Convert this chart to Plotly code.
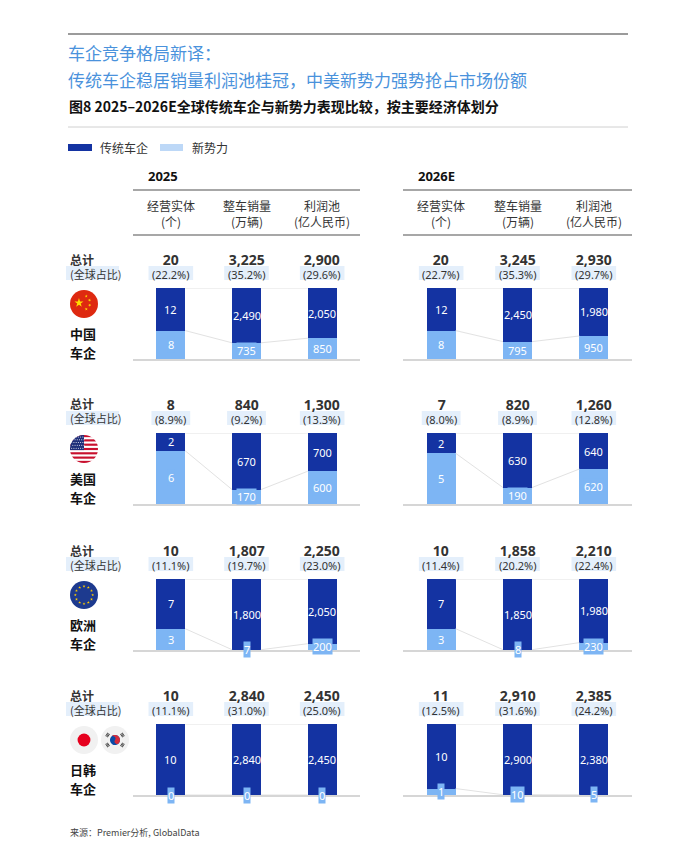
import base64
import math
import plotly.graph_objects as go

# ---------------- data ----------------
years = ["2025", "2026E"]
regions = ["中国", "美国", "欧洲", "日韩"]
region_suffix = "车企"
metric_names = ["经营实体", "整车销量", "利润池"]
metric_units = ["(个)", "(万辆)", "(亿人民币)"]
series_names = ["传统车企", "新势力"]

# rows: 中国, 美国, 欧洲, 日韩 ; columns: 经营实体, 整车销量, 利润池
traditional_2025 = [[12, 2490, 2050], [2, 670, 700], [7, 1800, 2050], [10, 2840, 2450]]
newforce_2025 = [[8, 735, 850], [6, 170, 600], [3, 7, 200], [0, 0, 0]]
total_2025 = [[20, 3225, 2900], [8, 840, 1300], [10, 1807, 2250], [10, 2840, 2450]]
share_2025 = [[22.2, 35.2, 29.6], [8.9, 9.2, 13.3], [11.1, 19.7, 23.0], [11.1, 31.0, 25.0]]

traditional_2026 = [[12, 2450, 1980], [2, 630, 640], [7, 1850, 1980], [10, 2900, 2380]]
newforce_2026 = [[8, 795, 950], [5, 190, 620], [3, 8, 230], [1, 10, 5]]
total_2026 = [[20, 3245, 2930], [7, 820, 1260], [10, 1858, 2210], [11, 2910, 2385]]
share_2026 = [[22.7, 35.3, 29.7], [8.0, 8.9, 12.8], [11.4, 20.2, 22.4], [12.5, 31.6, 24.2]]

title_line1 = "车企竞争格局新译："
title_line2 = "传统车企稳居销量利润池桂冠，中美新势力强势抢占市场份额"
caption = "图8 2025–2026E全球传统车企与新势力表现比较，按主要经济体划分"
source = "来源：Premier分析, GlobalData"
total_label = "总计"
share_label = "(全球占比)"

# ---------------- style ----------------
OFF = 8                      # page body margin
W, H = 675 - 2 * OFF, 855 - 2 * OFF
DARK = "#1433a2"
LIGHT = "#7db5f4"
LEGEND_LIGHT = "#bdd8f7"
PCT_BG = "#e4effb"
CONNECT = "#e2e2e2"
FONT = "Noto Sans CJK SC"
NUMFONT = "Noto Sans"
BAR_W = 0.38

row_tops = [288, 433, 579, 724]
bar_h = 71
col_domains = [(133, 360), (403, 632)]


def px(x):
    return (x - OFF) / W


def py(y):
    return 1 - (y - OFF) / H


def ann(**kw):
    kw.setdefault("showarrow", False)
    kw.setdefault("yanchor", "middle")
    kw.setdefault("xanchor", "center")
    return kw


def bg_rect(x0, x1, y0, y1):
    return dict(type="rect", xref="paper", yref="paper", x0=px(x0), x1=px(x1), y0=py(y1), y1=py(y0),
                fillcolor=PCT_BG, line=dict(width=0), layer="below")


# ---------------- flags (svg) ----------------
def star(cx, cy, R, rot=-90):
    pts = []
    for k in range(10):
        r = R if k % 2 == 0 else R * 0.382
        a = math.radians(rot + k * 36)
        pts.append(f"{cx + r * math.cos(a):.2f},{cy + r * math.sin(a):.2f}")
    return " ".join(pts)


def svg_uri(body):
    svg = ('<svg xmlns="http://www.w3.org/2000/svg" viewBox="0 0 100 100">'
           '<defs><clipPath id="c"><circle cx="50" cy="50" r="50"/></clipPath></defs>'
           f'<g clip-path="url(#c)">{body}</g></svg>')
    return "data:image/svg+xml;base64," + base64.b64encode(svg.encode()).decode()


cn = '<rect width="100" height="100" fill="#de2910"/>'
cn += f'<polygon points="{star(32, 46, 17)}" fill="#ffde00"/>'
for (sx, sy, rr) in [(58, 22, 0), (70, 36, 20), (70, 54, 40), (58, 68, 60)]:
    cn += f'<polygon points="{star(sx, sy, 6, -90 + rr)}" fill="#ffde00"/>'
flag_cn = svg_uri(cn)

us = '<rect width="100" height="100" fill="#ffffff"/>'
sh = 100 / 13
for k in range(0, 13, 2):
    us += f'<rect x="0" y="{k * sh:.2f}" width="100" height="{sh:.2f}" fill="#c8102e"/>'
us += f'<rect x="0" y="0" width="50" height="{7 * sh:.2f}" fill="#1f2f7a"/>'
for r in range(5):
    for c in range(6):
        us += f'<circle cx="{6 + c * 8 + (4 if r % 2 else 0):.1f}" cy="{7 + r * 10:.1f}" r="1.8" fill="#ffffff"/>'
flag_us = svg_uri(us)

eu = '<rect width="100" height="100" fill="#1d3a8f"/>'
for k in range(12):
    a = math.radians(k * 30)
    eu += f'<polygon points="{star(50 + 31 * math.cos(a), 50 + 31 * math.sin(a), 5.5)}" fill="#ffcc00"/>'
flag_eu = svg_uri(eu)

jp = '<rect width="100" height="100" fill="#f1f1f1"/><circle cx="50" cy="50" r="23" fill="#e6001e"/>'
flag_jp = svg_uri(jp)

kr = '<rect width="100" height="100" fill="#f1f1f1"/>'
kr += '<g transform="rotate(33.7 50 50)">'
kr += '<circle cx="50" cy="50" r="18" fill="#0a4aa6"/>'
kr += '<path d="M32,50 A18,18 0 0 1 68,50 A9,9 0 0 1 50,50 A9,9 0 0 0 32,50 Z" fill="#d52b3a"/>'
kr += '</g>'
for ang in [-146.3, -33.7, 33.7, 146.3]:
    a = math.radians(ang)
    cx, cy = 50 + 32 * math.cos(a), 50 + 32 * math.sin(a)
    g = f'<g transform="translate({cx:.2f},{cy:.2f}) rotate({ang + 90:.2f})">'
    for j in range(3):
        g += f'<rect x="-7" y="{-5 + j * 3.8:.1f}" width="14" height="2.4" fill="#222"/>'
    g += '</g>'
    kr += g
flag_kr = svg_uri(kr)

flags = [[flag_cn], [flag_us], [flag_eu], [flag_jp, flag_kr]]

# ---------------- figure ----------------
fig = go.Figure()
layout = dict(
    width=W, height=H, margin=dict(l=0, r=0, t=0, b=0),
    paper_bgcolor="white", plot_bgcolor="rgba(0,0,0,0)",
    barmode="stack", barnorm="fraction", showlegend=False,
    font=dict(family=FONT, color="#222"),
)
annotations = []
shapes = []
images = []

year_data = [
    (traditional_2025, newforce_2025, total_2025, share_2025),
    (traditional_2026, newforce_2026, total_2026, share_2026),
]

k = 0
for r in range(4):
    top = row_tops[r]
    for c in range(2):
        k += 1
        xa, ya = f"x{k}", f"y{k}"
        xl, yl = ("xaxis" if k == 1 else f"xaxis{k}"), ("yaxis" if k == 1 else f"yaxis{k}")
        d0, d1 = col_domains[c]
        layout[xl] = dict(domain=[px(d0), px(d1)], range=[-0.5, 2.5], anchor=ya,
                          showticklabels=False, showgrid=False, zeroline=False, ticks="",
                          showline=True, linecolor="#d6d6d6", linewidth=1.5, fixedrange=True)
        layout[yl] = dict(domain=[py(top + bar_h), py(top)], range=[0, 1], anchor=xa,
                          visible=False, fixedrange=True)
        trad, new, tot, shr = [a[r] for a in year_data[c]]
        xs = [0, 1, 2]
        fig.add_trace(go.Bar(x=xs, y=new, width=BAR_W, marker=dict(color=LIGHT, line=dict(width=0)),
                             xaxis=xa, yaxis=ya, name=series_names[1], hoverinfo="skip"))
        fig.add_trace(go.Bar(x=xs, y=trad, width=BAR_W, marker=dict(color=DARK, line=dict(width=0)),
                             xaxis=xa, yaxis=ya, name=series_names[0], hoverinfo="skip"))
        frac = [n / (n + t) for n, t in zip(new, trad)]
        cx, cy = [], []
        for i in range(2):
            cx += [i + BAR_W / 2, i + 1 - BAR_W / 2, None, i + BAR_W / 2, i + 1 - BAR_W / 2, None]
            cy += [frac[i], frac[i + 1], None, 1, 1, None]
        fig.add_trace(go.Scatter(x=cx, y=cy, mode="lines", line=dict(color=CONNECT, width=1),
                                 xaxis=xa, yaxis=ya, hoverinfo="skip", showlegend=False))
        step = (d1 - d0) / 3
        for i in range(3):
            # segment labels
            annotations.append(ann(x=i, y=frac[i] + (1 - frac[i]) / 2, xref=xa, yref=ya,
                                   text=f"{trad[i]:,}",
                                   font=dict(size=11, color="white", family=NUMFONT)))
            annotations.append(ann(x=i, y=frac[i] / 2, xref=xa, yref=ya,
                                   text=f"{new[i]:,}", bgcolor=LIGHT, borderpad=0,
                                   font=dict(size=11, color="white", family=NUMFONT)))
            # totals + share (one two-line text, light box behind the share line)
            pct_txt = f"({shr[i]:.1f}%)"
            ccx = d0 + (i + 0.5) * step
            hw = len(pct_txt) * 2.9 + 2
            shapes.append(bg_rect(ccx - hw, ccx + hw, top - 22, top - 8))
            annotations.append(ann(x=i, y=1, xref=xa, yref=ya, yshift=22,
                                   text=f"<span style='font-size:14px'><b>{tot[i]:,}</b></span><br>{pct_txt}",
                                   font=dict(size=11, color="#333", family=NUMFONT)))
            if r == 0:
                annotations.append(ann(x=i, y=py(213.5), xref=xa, yref="paper",
                                       text=f"{metric_names[i]}<br>{metric_units[i]}",
                                       font=dict(size=12, color="#333")))
    # row labels
    shapes.append(bg_rect(66, 119, top - 22, top - 8))
    annotations.append(ann(x=px(68), y=py(top - 22), xref="paper", yref="paper", xanchor="left",
                           align="left",
                           text=f"<span style='font-size:12px'><b>{total_label}</b></span><br>{share_label}",
                           font=dict(size=11, color="#333")))
    annotations.append(ann(x=px(68), y=py(top + 45), xref="paper", yref="paper", xanchor="left",
                           text=f"<b>{regions[r]}</b>", font=dict(size=13, color="#111")))
    annotations.append(ann(x=px(68), y=py(top + 64), xref="paper", yref="paper", xanchor="left",
                           text=f"<b>{region_suffix}</b>", font=dict(size=13, color="#111")))
    for j, src in enumerate(flags[r]):
        fx = 84 + 31 * j
        images.append(dict(source=src, xref="paper", yref="paper", x=px(fx - 14), y=py(top + 2),
                           sizex=28 / W, sizey=28 / H, xanchor="left", yanchor="top",
                           sizing="contain", layer="above"))

# header block
shapes.append(dict(type="line", xref="paper", yref="paper", x0=px(68), x1=px(628), y0=py(34), y1=py(34),
                   line=dict(color="#7a7a7a", width=1.5)))
shapes.append(dict(type="line", xref="paper", yref="paper", x0=px(68), x1=px(628), y0=py(127), y1=py(127),
                   line=dict(color="#d0d0d0", width=1)))
for (d0, d1) in col_domains:
    for yy in (190, 235):
        shapes.append(dict(type="line", xref="paper", yref="paper", x0=px(d0), x1=px(d1), y0=py(yy), y1=py(yy),
                           line=dict(color="#8a8a8a", width=1.5)))

annotations.append(ann(x=px(66), y=py(53), xref="paper", yref="paper", xanchor="left", text=title_line1,
                       font=dict(size=17, color="#4a92dc", family=FONT)))
annotations.append(ann(x=px(66), y=py(79), xref="paper", yref="paper", xanchor="left", text=title_line2,
                       font=dict(size=17, color="#4a92dc", family=FONT)))
annotations.append(ann(x=px(67), y=py(106), xref="paper", yref="paper", xanchor="left",
                       text=f"<b>{caption}</b>", font=dict(size=14, color="#111")))

# legend
shapes.append(dict(type="rect", xref="paper", yref="paper", x0=px(68), x1=px(92), y0=py(151), y1=py(144),
                   fillcolor=DARK, line=dict(width=0)))
shapes.append(dict(type="rect", xref="paper", yref="paper", x0=px(160), x1=px(183), y0=py(151), y1=py(144),
                   fillcolor=LEGEND_LIGHT, line=dict(width=0)))
annotations.append(ann(x=px(98), y=py(147.5), xref="paper", yref="paper", xanchor="left",
                       text=series_names[0], font=dict(size=12, color="#333")))
annotations.append(ann(x=px(190), y=py(147.5), xref="paper", yref="paper", xanchor="left",
                       text=series_names[1], font=dict(size=12, color="#333")))

annotations.append(ann(x=px(146), y=py(176), xref="paper", yref="paper", xanchor="left",
                       text=f"<b>{years[0]}</b>", font=dict(size=13, color="#111", family=NUMFONT)))
annotations.append(ann(x=px(416), y=py(176), xref="paper", yref="paper", xanchor="left",
                       text=f"<b>{years[1]}</b>", font=dict(size=13, color="#111", family=NUMFONT)))

annotations.append(ann(x=px(68), y=py(832), xref="paper", yref="paper", xanchor="left",
                       text=source, font=dict(size=9, color="#444")))

layout["annotations"] = annotations
layout["shapes"] = shapes
layout["images"] = images
fig.update_layout(**layout)
fig.write_html("out.html")
